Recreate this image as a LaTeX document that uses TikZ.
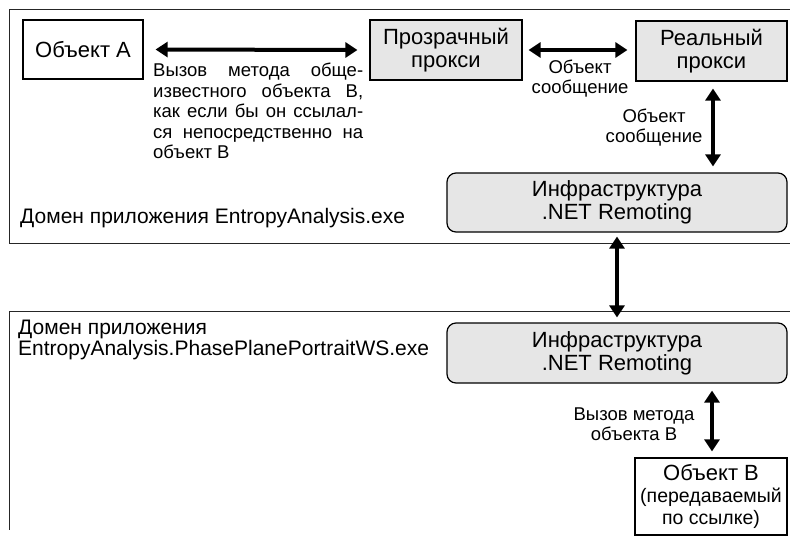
\documentclass[tikz,border=0pt]{standalone}
\usepackage{fontspec}
\setmainfont{Liberation Sans}
\usetikzlibrary{arrows.meta}
\definecolor{boxgray}{RGB}{230,230,230}
\tikzset{
  x=1pt, y=-1pt,
  plainbox/.style={draw=black, line width=1.2pt, fill=white, inner sep=0pt, align=center,
    font=\fontsize{22}{23}\selectfont},
  graybox/.style={plainbox, fill=boxgray},
  infrabox/.style={graybox, rounded corners=9pt},
  lbl/.style={inner sep=0pt, align=center, font=\fontsize{18.5}{20}\selectfont},
  domlbl/.style={inner sep=0pt, align=left, anchor=west, font=\fontsize{21}{21}\selectfont},
  domline/.style={draw=black!85, line width=1pt},
  bigarrow/.style={line width=4pt, {Triangle[length=12pt,width=15pt]}-{Triangle[length=12pt,width=15pt]}},
}
\begin{document}
\begin{tikzpicture}
\useasboundingbox (0,0) rectangle (790,539);
\clip (0,0) rectangle (790,539);
% domains
\draw[domline] (800,9) -- (9,9) -- (9,243) -- (800,243);
\draw[domline] (800,311) -- (9,311) -- (9,530);
% boxes
\node[plainbox, minimum width=120pt, minimum height=59pt] (objA) at (83,49.5) {Объект А};
\node[graybox, minimum width=152pt, minimum height=60pt] (transp) at (446,50) {Прозрачный\\прокси};
\node[graybox, minimum width=151pt, minimum height=60pt] (real) at (711.5,51) {Реальный\\прокси};
\node[infrabox, minimum width=340pt, minimum height=59pt] (infraA) at (617,202.5) {Инфраструктура\\.NET Remoting};
\node[infrabox, minimum width=340pt, minimum height=60pt] (infraB) at (617,353) {Инфраструктура\\.NET Remoting};
\node[plainbox, minimum width=152pt, minimum height=77pt, font=\fontsize{22}{22}\selectfont] (objB) at (711,496.5)
  {Объект В\\{\fontsize{19.5}{22}\selectfont (передаваемый}\\{\fontsize{19.5}{22}\selectfont по ссылке)}};
% labels
\node[lbl, anchor=north west, text width=210pt, align=justify, font=\fontsize{18.5}{20.5}\selectfont] (callA) at (153,63)
  {Вызов метода обще-\linebreak известного объекта В,\linebreak как если бы он ссылал-\linebreak ся непосредственно на\linebreak объект В};
\node[lbl] (msg1) at (580,79) {Объект\\сообщение};
\node[lbl] (msg2) at (654,128) {Объект\\сообщение};
\node[lbl] (callB) at (634,424) {Вызов метода\\объекта В};
\node[domlbl] (domA) at (20,218) {Домен приложения EntropyAnalysis.exe};
\node[domlbl] (domB) at (18,340) {Домен приложения\\EntropyAnalysis.PhasePlanePortraitWS.exe};
% arrows
\draw[bigarrow] ([xshift=12pt]objA.east) -- ([xshift=-12pt]transp.west);
\draw[bigarrow] ([xshift=6pt]transp.east) -- ([xshift=-8pt]real.west |- transp.east);
\draw[bigarrow] ([xshift=1.5pt,yshift=-7pt]real.south) -- ([xshift=1.5pt,yshift=6pt]real.south |- infraA.north);
\draw[bigarrow] ([yshift=-4pt]infraA.south) -- ([yshift=5pt]infraB.north);
\draw[bigarrow] ([xshift=1pt,yshift=-7pt]objB.north |- infraB.south) -- ([xshift=1pt,yshift=6pt]objB.north);
\end{tikzpicture}
\end{document}
